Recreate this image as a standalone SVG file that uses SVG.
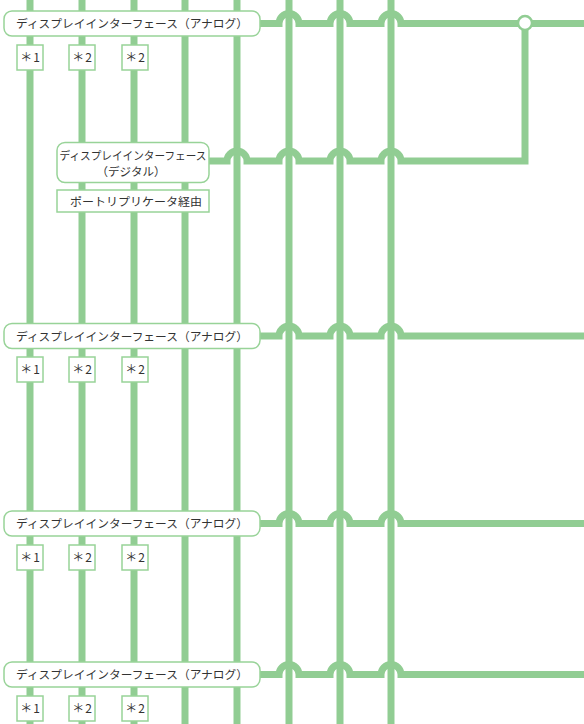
<svg xmlns="http://www.w3.org/2000/svg" width="584" height="724" viewBox="0 0 584 724">
<style>
.v{stroke:#91cd93;stroke-width:7;fill:none}
.h{stroke:#91cd93;stroke-width:7;fill:none;stroke-linejoin:miter}
.box{fill:#fff;stroke:#98d398;stroke-width:1.5}
.t{font-family:"Noto Sans CJK JP","Noto Sans",sans-serif;fill:#333;text-anchor:middle}
.big{font-size:11.8px}
.sm{font-size:11.5px}
.lb{font-size:12px;letter-spacing:1px}
</style>
<rect width="584" height="724" fill="#fff"/>
<g id="connectors">
  <path class="v" d="M30 0V724M82 0V724M134 0V724M185 0V724M237 0V724M289 0V724M340 0V724M391 0V724"/>
  <path class="h" d="M258 23.5H279A10 10 0 0 1 299 23.5H330A10 10 0 0 1 350 23.5H381A10 10 0 0 1 401 23.5H584"/>
  <path class="h" d="M208 161H227A10 10 0 0 1 247 161H279A10 10 0 0 1 299 161H330A10 10 0 0 1 350 161H381A10 10 0 0 1 401 161H525V23.5"/>
  <path class="h" d="M258 336H279A10 10 0 0 1 299 336H330A10 10 0 0 1 350 336H381A10 10 0 0 1 401 336H584"/>
  <path class="h" d="M258 523.5H279A10 10 0 0 1 299 523.5H330A10 10 0 0 1 350 523.5H381A10 10 0 0 1 401 523.5H584"/>
  <path class="h" d="M258 674.5H279A10 10 0 0 1 299 674.5H330A10 10 0 0 1 350 674.5H381A10 10 0 0 1 401 674.5H584"/>
  <circle cx="525" cy="23" r="7" fill="#fff" stroke="#91cd93" stroke-width="2.5"/>
</g>
<g id="analog1">
  <rect class="box" x="4" y="11" width="256" height="25" rx="8"/>
  <text class="t big" x="132" y="28" textLength="232" lengthAdjust="spacingAndGlyphs">ディスプレイインターフェース（アナログ）</text>
</g>
<g id="labels1">
  <rect class="box" x="17" y="45" width="26" height="25"/><text class="t lb" x="30.5" y="62">＊1</text>
  <rect class="box" x="69" y="45" width="26" height="25"/><text class="t lb" x="82.5" y="62">＊2</text>
  <rect class="box" x="122" y="45" width="26" height="25"/><text class="t lb" x="135.5" y="62">＊2</text>
</g>
<g id="digital">
  <rect class="box" x="57" y="142.5" width="152" height="40" rx="8"/>
  <text class="t sm" x="133" y="159.5" textLength="147" lengthAdjust="spacingAndGlyphs">ディスプレイインターフェース</text>
  <text class="t sm" x="131" y="175.5">（デジタル）</text>
</g>
<g id="port-replicator">
  <rect class="box" x="57" y="190" width="152" height="22"/>
  <text class="t sm" x="136" y="205.5" textLength="132" lengthAdjust="spacingAndGlyphs">ポートリプリケータ経由</text>
</g>
<g id="analog2">
  <rect class="box" x="4" y="323.5" width="256" height="25" rx="8"/>
  <text class="t big" x="132" y="340.5" textLength="232" lengthAdjust="spacingAndGlyphs">ディスプレイインターフェース（アナログ）</text>
</g>
<g id="labels2">
  <rect class="box" x="17" y="357" width="26" height="25"/><text class="t lb" x="30.5" y="374">＊1</text>
  <rect class="box" x="69" y="357" width="26" height="25"/><text class="t lb" x="82.5" y="374">＊2</text>
  <rect class="box" x="122" y="357" width="26" height="25"/><text class="t lb" x="135.5" y="374">＊2</text>
</g>
<g id="analog3">
  <rect class="box" x="4" y="511" width="256" height="25" rx="8"/>
  <text class="t big" x="132" y="528" textLength="232" lengthAdjust="spacingAndGlyphs">ディスプレイインターフェース（アナログ）</text>
</g>
<g id="labels3">
  <rect class="box" x="17" y="545" width="26" height="25"/><text class="t lb" x="30.5" y="562">＊1</text>
  <rect class="box" x="69" y="545" width="26" height="25"/><text class="t lb" x="82.5" y="562">＊2</text>
  <rect class="box" x="122" y="545" width="26" height="25"/><text class="t lb" x="135.5" y="562">＊2</text>
</g>
<g id="analog4">
  <rect class="box" x="4" y="662" width="256" height="25" rx="8"/>
  <text class="t big" x="132" y="679" textLength="232" lengthAdjust="spacingAndGlyphs">ディスプレイインターフェース（アナログ）</text>
</g>
<g id="labels4">
  <rect class="box" x="17" y="696" width="26" height="25"/><text class="t lb" x="30.5" y="713">＊1</text>
  <rect class="box" x="69" y="696" width="26" height="25"/><text class="t lb" x="82.5" y="713">＊2</text>
  <rect class="box" x="122" y="696" width="26" height="25"/><text class="t lb" x="135.5" y="713">＊2</text>
</g>
</svg>
